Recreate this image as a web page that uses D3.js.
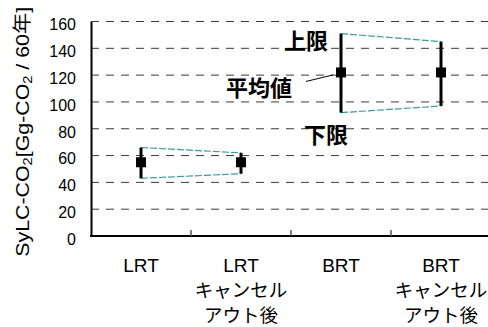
<!DOCTYPE html>
<html>
<head>
<meta charset="utf-8">
<script src="https://cdn.jsdelivr.net/npm/d3@7/dist/d3.min.js"></script>
<style>
  html, body { margin: 0; padding: 0; background: #fff; }
  svg { display: block; }
</style>
</head>
<body>
<svg id="chart" width="488" height="327"></svg>
<script>
// Categories (label lines) and the range of SyLC-CO2 for each case
const categories = ["LRT", "LRT-CO", "BRT", "BRT-CO"];
const categoryLines = [["LRT"], ["LRT", "キャンセル", "アウト後"], ["BRT"], ["BRT", "キャンセル", "アウト後"]];
const means = [55, 55, 122, 122];
const upper = [66, 62, 151, 145];
const lower = [43, 46.5, 92, 97];
const linkPairs = [[0, 1], [2, 3]];
const yTicks = [0, 20, 40, 60, 80, 100, 120, 140, 160];

const svg = d3.select("#chart");
const margin = { left: 91, top: 21.5, bottom: 236, right: 491 };

const x = d3.scaleBand().domain(categories).range([margin.left, margin.right]);
const y = d3.scaleLinear().domain([0, 160]).range([margin.bottom, margin.top]);
const cx = i => x(categories[i]) + x.bandwidth() / 2;

// dashed horizontal gridlines
svg.append("g")
  .selectAll("line")
  .data(yTicks.filter(t => t > 0))
  .join("line")
  .attr("x1", margin.left).attr("x2", margin.right)
  .attr("y1", d => y(d)).attr("y2", d => y(d))
  .attr("stroke", "#3a3a3a").attr("stroke-width", 1)
  .attr("stroke-dasharray", "8,7");

// y axis
const yAxis = svg.append("g")
  .attr("transform", `translate(${margin.left},0)`)
  .call(d3.axisLeft(y).tickValues(yTicks).tickSize(0).tickPadding(15));
yAxis.select(".domain").attr("stroke", "#000").attr("stroke-width", 2);
yAxis.selectAll("text")
  .attr("font-family", "'Liberation Sans', Arial, sans-serif")
  .attr("font-size", 16).attr("fill", "#000")
  .attr("dy", "0.52em");

// x axis with inward ticks on category boundaries
const xAxisG = svg.append("g");
xAxisG.append("line")
  .attr("x1", margin.left - 1).attr("x2", margin.right)
  .attr("y1", y(0)).attr("y2", y(0))
  .attr("stroke", "#000").attr("stroke-width", 2);
xAxisG.selectAll("line.tick")
  .data(categories.slice(1))
  .join("line").attr("class", "tick")
  .attr("x1", d => x(d)).attr("x2", d => x(d))
  .attr("y1", y(0)).attr("y2", y(0) - 6)
  .attr("stroke", "#555").attr("stroke-width", 1.5);

// category labels
const labels = svg.append("g")
  .attr("font-family", "'Liberation Sans', Arial, 'Noto Sans CJK JP', sans-serif")
  .attr("font-size", 19).attr("fill", "#000").attr("text-anchor", "middle");
categoryLines.forEach((lines, i) => {
  const t = labels.append("text").attr("x", cx(i)).attr("y", 272);
  lines.forEach((ln, k) => {
    t.append("tspan").attr("x", cx(i)).attr("dy", k === 0 ? 0 : 25)
      .attr("font-family", k === 0 ? "'Liberation Sans', Arial, sans-serif" : "'Noto Sans CJK JP', sans-serif")
      .attr("font-size", k === 0 ? 19 : 18.5)
      .text(ln);
  });
});

// dashed teal lines joining the upper and lower limits
const links = svg.append("g")
  .attr("stroke", "#3a9c9c").attr("stroke-width", 1.2)
  .attr("stroke-dasharray", "7,2").attr("fill", "none");
linkPairs.forEach(([a, b]) => {
  links.append("line")
    .attr("x1", cx(a)).attr("y1", y(upper[a]))
    .attr("x2", cx(b)).attr("y2", y(upper[b]));
  links.append("line")
    .attr("x1", cx(a)).attr("y1", y(lower[a]))
    .attr("x2", cx(b)).attr("y2", y(lower[b]));
});

// range bars and mean markers
const marks = svg.append("g");
marks.selectAll("line")
  .data(categories)
  .join("line")
  .attr("x1", (d, i) => cx(i)).attr("x2", (d, i) => cx(i))
  .attr("y1", (d, i) => y(upper[i])).attr("y2", (d, i) => y(lower[i]))
  .attr("stroke", "#000").attr("stroke-width", 3);
const ms = 10;
marks.selectAll("rect")
  .data(categories)
  .join("rect")
  .attr("x", (d, i) => cx(i) - ms / 2)
  .attr("y", (d, i) => y(means[i]) - ms / 2)
  .attr("width", ms).attr("height", ms)
  .attr("fill", "#000");

// annotations for the BRT range
const ann = svg.append("g")
  .attr("font-family", "'Noto Sans CJK JP', sans-serif")
  .attr("font-size", 22).attr("font-weight", "bold").attr("fill", "#000");
const bx = cx(2);
ann.append("text").attr("x", bx - 13).attr("y", y(upper[2]) + 15.5)
  .attr("text-anchor", "end").text("上限");
ann.append("text").attr("x", bx - 49).attr("y", y(means[2]) + 23.5)
  .attr("text-anchor", "end").text("平均値");
ann.append("text").attr("x", bx + 7).attr("y", y(lower[2]) + 30.5)
  .attr("text-anchor", "end").text("下限");
svg.append("line")
  .attr("x1", bx - 35).attr("y1", y(means[2]) + 9)
  .attr("x2", bx - 8).attr("y2", y(means[2]) + 2.5)
  .attr("stroke", "#000").attr("stroke-width", 1);

// y axis title
const title = svg.append("text")
  .attr("transform", `translate(29,${(margin.top + margin.bottom) / 2 + 3}) rotate(-90)`)
  .attr("text-anchor", "middle")
  .attr("textLength", 250).attr("lengthAdjust", "spacingAndGlyphs")
  .attr("font-family", "'Liberation Sans', Arial, 'Noto Sans CJK JP', sans-serif")
  .attr("font-size", 19).attr("fill", "#000");
title.append("tspan").text("SyLC-CO");
title.append("tspan").attr("font-size", 13).attr("dy", 3).text("2");
title.append("tspan").attr("dy", -3).text("[Gg-CO");
title.append("tspan").attr("font-size", 13).attr("dy", 3).text("2");
title.append("tspan").attr("dy", -3).text(" / 60");
title.append("tspan").attr("font-family", "'Noto Sans CJK JP', sans-serif").text("年");
title.append("tspan").text("]");
</script>
</body>
</html>
